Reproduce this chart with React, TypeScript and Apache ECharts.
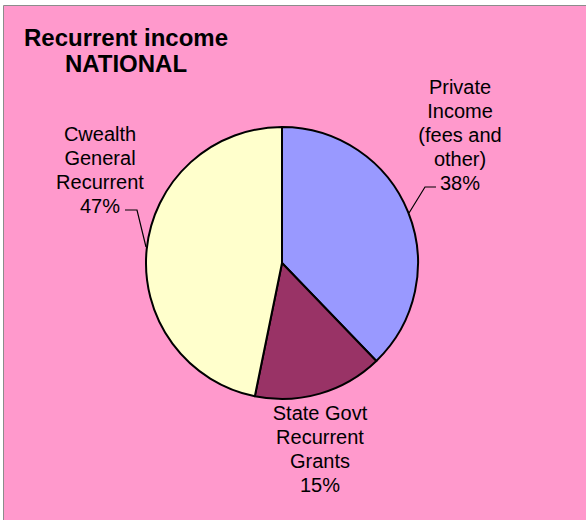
import React, { useEffect, useRef } from "react";
import * as echarts from "echarts";

const categories = [
  "Private\nIncome\n(fees and\nother)",
  "State Govt\nRecurrent\nGrants",
  "Cwealth\nGeneral\nRecurrent",
];
const values = [37.8, 15.4, 46.8];
const sliceColors = ["#9999FF", "#993366", "#FFFFCC"];
const titleLines = ["Recurrent income", "NATIONAL"];

// label anchor layout (x centre, top y) and leader lines
const labelAnchors = [
  { x: 460, y: 75, line: [[409, 213], [425, 187], [436, 187]] },
  { x: 320, y: 401, line: null },
  { x: 100, y: 122, line: [[146, 247], [137, 210], [125, 210]] },
];

const FONT = "'Liberation Sans', Arial, Helvetica, sans-serif";

export default function App() {
  const ref = useRef<HTMLDivElement>(null);
  useEffect(() => {
    if (!ref.current) return;
    const chart = echarts.init(ref.current, undefined, { renderer: "svg" });
    chart.setOption({
      animation: false,
      backgroundColor: "#FFFFFF",
      graphic: [
        {
          type: "rect",
          z: -10,
          shape: { x: 3.5, y: 5.5, width: 700, height: 700 },
          style: { fill: "#FF99CC", stroke: "#8C8C8C", lineWidth: 1 },
        },
        {
          type: "text",
          z: 10,
          x: 126,
          y: 24,
          style: {
            text: titleLines.join("\n"),
            font: `bold 24px ${FONT}`,
            fill: "#000",
            align: "center",
            verticalAlign: "top",
            lineHeight: 26,
          },
        },
      ],
      series: [
        {
          type: "pie",
          center: [282, 263],
          radius: 136,
          startAngle: 90,
          clockwise: true,
          percentPrecision: 0,
          avoidLabelOverlap: false,
          itemStyle: { borderColor: "#000", borderWidth: 2 },
          emphasis: { disabled: true },
          label: {
            show: true,
            position: "outside",
            formatter: "{b}\n{d}%",
            color: "#000",
            fontFamily: FONT,
            fontSize: 20,
            lineHeight: 24,
            align: "center",
          },
          labelLine: {
            show: true,
            lineStyle: { color: "#000", width: 1.2 },
          },
          labelLayout: (params: any) => {
            const a = labelAnchors[params.dataIndex];
            const out: any = {
              x: a.x,
              y: a.y,
              align: "center",
              verticalAlign: "top",
            };
            if (a.line) out.labelLinePoints = a.line;
            return out;
          },
          data: categories.map((c, i) => ({
            name: c,
            value: values[i],
            itemStyle: { color: sliceColors[i] },
            labelLine: { show: labelAnchors[i].line !== null },
          })),
        },
      ],
    });
    return () => chart.dispose();
  }, []);
  return (
    <div
      ref={ref}
      style={{ position: "absolute", left: 0, top: 0, width: 586, height: 520 }}
    />
  );
}
